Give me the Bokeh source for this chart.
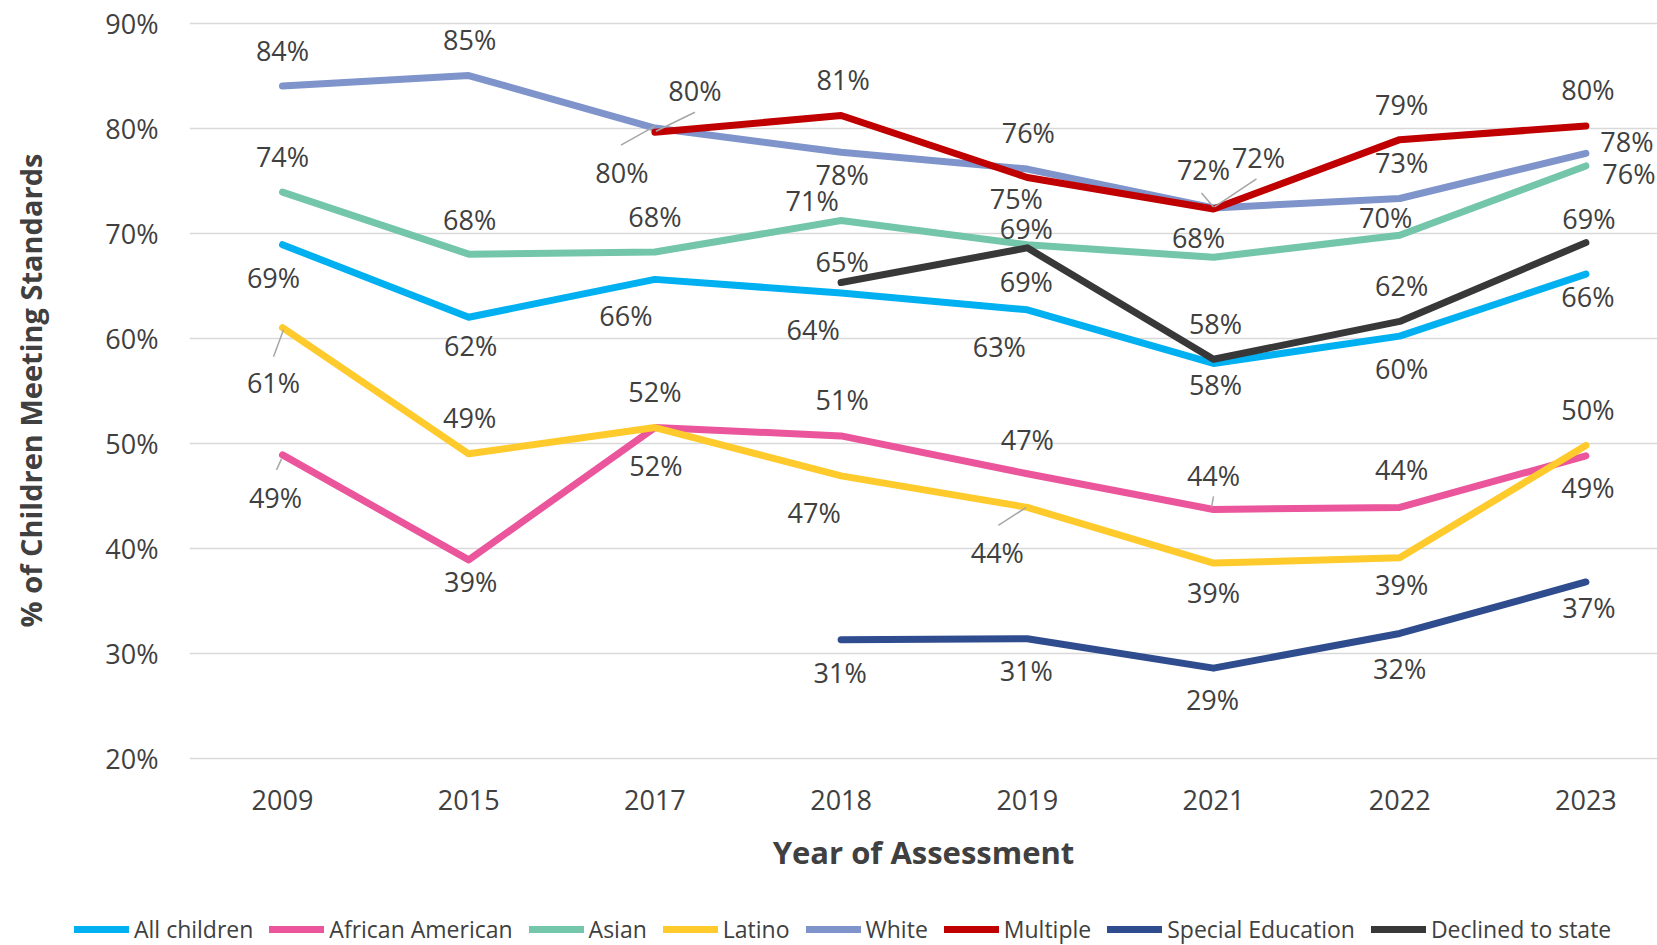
from bokeh.plotting import figure
from bokeh.layouts import column
from bokeh.models import Range1d, FixedTicker, Legend, LegendItem
from bokeh.embed import file_html
from bokeh.resources import INLINE
from bokeh.core.properties import value

# ---------------- data ----------------
years = ["2009", "2015", "2017", "2018", "2019", "2021", "2022", "2023"]
all_children = [68.9, 62.0, 65.6, 64.3, 62.7, 57.6, 60.2, 66.1]
african_american = [48.9, 38.9, 51.5, 50.7, 47.1, 43.7, 43.9, 48.8]
asian = [73.9, 68.0, 68.2, 71.2, 68.9, 67.7, 69.8, 76.4]
latino = [61.0, 49.0, 51.5, 46.9, 43.9, 38.6, 39.1, 49.8]
white = [84.0, 85.0, 80.0, 77.7, 76.1, 72.4, 73.3, 77.6]
multiple = [None, None, 79.6, 81.2, 75.3, 72.3, 78.9, 80.2]
special_education = [None, None, None, 31.3, 31.4, 28.6, 31.9, 36.8]
declined_to_state = [None, None, None, 65.3, 68.6, 58.0, 61.6, 69.1]

series_names = ["All children", "African American", "Asian", "Latino", "White",
                "Multiple", "Special Education", "Declined to state"]
series_values = [all_children, african_american, asian, latino, white,
                 multiple, special_education, declined_to_state]
y_ticks = [20, 30, 40, 50, 60, 70, 80, 90]
y_tick_labels = ["20%", "30%", "40%", "50%", "60%", "70%", "80%", "90%"]

# ---------------- styles / layout ----------------
colors = ["#00B0F0", "#EA559B", "#74C6AA", "#FFCA2C", "#7F94CB",
          "#C00000", "#2F4D8E", "#383838"]

# data-label offsets in screen pixels (dx right, dy down) relative to each point
label_offsets = [
    [(-9, 33), (2, 28), (-29, 36), (-28, 36), (-28, 37), (2, 21), (2, 32), (2, 22)],
    [(-7, 43), (2, 22), (1, 38), (1, -36), (0, -34), (0, -34), (2, -38), (2, 32)],
    [(0, -36), (1, -35), (0, -36), (-29, -20), (-1, 37), (-15, -20), (-14, -18), (43, 8)],
    [(-9, 55), (1, -36), (0, -36), (-27, 37), (-30, 45), (0, 29), (2, 27), (2, -36)],
    [(0, -36), (1, -36), (-33, 44), (1, 22), (1, -37), (-10, -38), (2, -36), (41, -12)],
    [None, None, (40, -42), (2, -36), (-11, 21), (45, -51), (2, -35), (2, -36)],
    [None, None, None, (-1, 33), (-1, 32), (-1, 31), (0, 35), (3, 26)],
    [None, None, None, (1, -21), (-1, -19), (2, -36), (2, -36), (3, -24)],
]
# leader lines: (series index, year index, dx1, dy1, dx2, dy2) in px from the point
leaders = [
    (3, 0, 1, 2, -9, 29),
    (1, 0, -1, 4, -6, 15),
    (4, 2, -34, 17, 0, -2),
    (5, 2, 1, -1, 40, -20),
    (4, 5, -12, -15, 0, -1),
    (5, 5, 1, -2, 43, -30),
    (3, 4, -29, 18, -1, 0),
    (1, 5, -2, -2, 0, -13),
]

W = 1657
H_MAIN, H_LEG = 901, 44
BORDER_L, BORDER_T = 189, 20
FRAME_W = W - BORDER_L
FRAME_H = 740
BORDER_B = H_MAIN - BORDER_T - FRAME_H
SPACING = 186.2
X0 = -93.0 / SPACING
X1 = X0 + FRAME_W / SPACING
PXY0 = 10.507
Y0 = 20 - 2.0 / PXY0
Y1 = Y0 + FRAME_H / PXY0
PXX = FRAME_W / (X1 - X0)
PXY = FRAME_H / (Y1 - Y0)

FONT = "Open Sans"
TXT = "#404040"
LW = 7

p = figure(width=W, height=H_MAIN, x_range=Range1d(X0, X1), y_range=Range1d(Y0, Y1),
           output_backend="svg", toolbar_location=None,
           min_border_left=BORDER_L, min_border_right=0,
           min_border_top=BORDER_T, min_border_bottom=BORDER_B)
p.outline_line_color = None
p.xgrid.visible = False
p.ygrid.grid_line_color = "#D9D9D9"
p.ygrid.grid_line_width = 1.5

p.yaxis.ticker = FixedTicker(ticks=y_ticks)
p.yaxis.major_label_overrides = {t: l for t, l in zip(y_ticks, y_tick_labels)}
p.xaxis.ticker = FixedTicker(ticks=list(range(len(years))))
p.xaxis.major_label_overrides = {i: y for i, y in enumerate(years)}
for ax in (p.xaxis, p.yaxis):
    ax.axis_line_color = None
    ax.major_tick_line_color = None
    ax.major_tick_out = 0
    ax.major_tick_in = 0
    ax.minor_tick_line_color = None
    ax.major_label_text_font = FONT
    ax.major_label_text_font_size = "27px"
    ax.major_label_text_color = TXT
    ax.axis_label_text_font = FONT
    ax.axis_label_text_font_style = "bold"
    ax.axis_label_text_color = TXT
p.yaxis.axis_label = "% of Children Meeting Standards"
p.yaxis.axis_label_text_font_size = "29px"
p.yaxis.major_label_standoff = 31
p.yaxis.axis_label_standoff = 52
p.xaxis.axis_label = "Year of Assessment"
p.xaxis.axis_label_text_font_size = "31px"
p.xaxis.major_label_standoff = 29
p.xaxis.axis_label_standoff = 18

for name, vals, col in zip(series_names, series_values, colors):
    xs = [i for i, v in enumerate(vals) if v is not None]
    ys = [v for v in vals if v is not None]
    p.line(xs, ys, line_color=col, line_width=LW, line_cap="round", line_join="round")

# leader lines
lx0, ly0, lx1, ly1 = [], [], [], []
for si, yi, dx1, dy1, dx2, dy2 in leaders:
    v = series_values[si][yi]
    lx0.append(yi + dx1 / PXX)
    ly0.append(v - dy1 / PXY)
    lx1.append(yi + dx2 / PXX)
    ly1.append(v - dy2 / PXY)
p.segment(lx0, ly0, lx1, ly1, line_color="#A6A6A6", line_width=1.5)

# data labels
tx, ty, tt = [], [], []
for vals, offs in zip(series_values, label_offsets):
    for i, (v, o) in enumerate(zip(vals, offs)):
        if v is None:
            continue
        tx.append(i + o[0] / PXX)
        ty.append(v - o[1] / PXY)
        tt.append(f"{v:.0f}%")
p.text(tx, ty, text=tt, text_font=value(FONT), text_font_size="27px",
       text_color=TXT, text_align="center", text_baseline="middle")

# legend strip below the chart (proxy renderers carry only the series styles)
leg = figure(width=W, height=H_LEG, x_range=Range1d(0, 1), y_range=Range1d(0, 1),
             output_backend="svg", toolbar_location=None,
             x_axis_location=None, y_axis_location=None,
             min_border_left=0, min_border_right=0, min_border_top=0, min_border_bottom=0)
leg.frame_align = False
p.frame_align = False
leg.outline_line_color = None
leg.xgrid.visible = False
leg.ygrid.visible = False
nan = float("nan")
items = []
for name, col in zip(series_names, colors):
    r = leg.line([nan, nan], [nan, nan], line_color=col, line_width=LW, line_cap="round")
    items.append(LegendItem(label=name, renderers=[r]))
legend = Legend(items=items, orientation="horizontal", location=(74, 0),
                glyph_width=55, glyph_height=20, label_standoff=5, spacing=16,
                padding=0, margin=0, border_line_color=None,
                background_fill_alpha=0,
                label_text_font=FONT, label_text_font_size="23px",
                label_text_color=TXT)
leg.add_layout(legend, "center")

layout = column(p, leg, spacing=0)
open("out.html", "w").write(file_html(layout, INLINE))
